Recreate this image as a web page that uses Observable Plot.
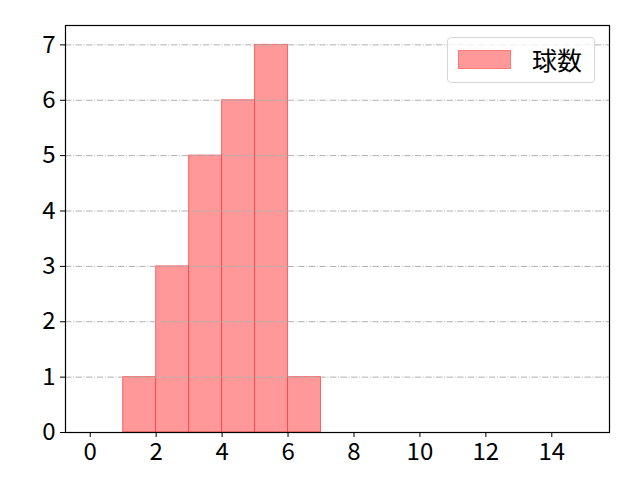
<!DOCTYPE html>
<html>
<head>
<meta charset="utf-8">
<script src="https://cdn.jsdelivr.net/npm/d3@7"></script>
<script src="https://cdn.jsdelivr.net/npm/@observablehq/plot@0.6"></script>
<style>
  body { margin: 0; background: #fff; }
  #wrap { position: relative; width: 640px; height: 480px; }
  #legend {
    position: absolute; left: 447px; top: 37px; width: 148px; height: 46px;
    border: 1px solid #d6d6d6; border-radius: 4px; background: rgba(255,255,255,0.8);
    box-sizing: border-box; font-family: "Noto Sans CJK JP", sans-serif; font-size: 25px;
  }
  #legend .patch {
    position: absolute; left: 10px; top: 12px; width: 53px; height: 19px;
    background: #ff9999; border: 1px solid #ff7777; box-sizing: border-box;
  }
  #legend .label { position: absolute; left: 84px; top: 2px; line-height: 38px; color: #000; }
</style>
</head>
<body>
<div id="wrap"></div>
<script>
const binStart = [1, 2, 3, 4, 5, 6];
const binEnd = [2, 3, 4, 5, 6, 7];
const counts = [1, 3, 5, 6, 7, 1];
const xTicks = [0, 2, 4, 6, 8, 10, 12, 14];
const yTicks = [0, 1, 2, 3, 4, 5, 6, 7];
const seriesName = "球数";

const bins = binStart.map((s, i) => ({x1: s, x2: binEnd[i], y: counts[i]}));
const gridTicks = yTicks.filter(d => d > 0);

const chart = Plot.plot({
  width: 640,
  height: 480,
  marginLeft: 65,
  marginRight: 31,
  marginTop: 25,
  marginBottom: 48,
  style: {fontFamily: "'Noto Sans CJK JP', sans-serif", fontSize: "24px", color: "#000", background: "#fff"},
  x: {domain: [-0.75, 15.75], ticks: xTicks, label: null},
  y: {domain: [0, 7.35], ticks: yTicks, label: null},
  marks: [
    Plot.rectY(bins, {x1: "x1", x2: "x2", y1: 0, y2: "y", fill: "#ff9999", stroke: "#ff3333", strokeOpacity: 0.7, strokeWidth: 1, inset: 0}),
    Plot.ruleY(gridTicks, {stroke: "#b0b0b0", strokeWidth: 1, strokeDasharray: "6.4,1.6,1,1.6"}),
    Plot.axisX({ticks: xTicks, tickSize: 5, tickPadding: 5, label: null}),
    Plot.axisY({ticks: yTicks, tickSize: 5, tickPadding: 5, label: null}),
    Plot.frame({stroke: "#000", strokeWidth: 1.2})
  ]
});
d3.select(chart).selectAll("text")
  .style("font-size", "24px")
  .style("font-family", "'Noto Sans CJK JP', sans-serif");
const wrap = document.getElementById("wrap");
wrap.appendChild(chart);
const legend = document.createElement("div");
legend.id = "legend";
legend.innerHTML = `<div class="patch"></div><div class="label"></div>`;
legend.querySelector(".label").textContent = seriesName;
wrap.appendChild(legend);
</script>
</body>
</html>
